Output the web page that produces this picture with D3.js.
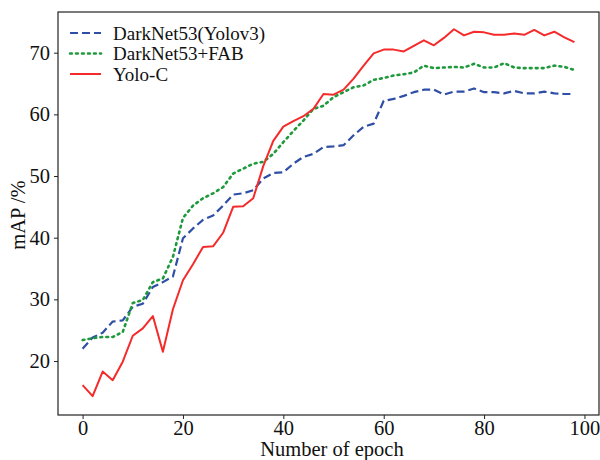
<!DOCTYPE html>
<html><head><meta charset="utf-8">
<script src="https://cdn.jsdelivr.net/npm/d3@7"></script>
<style>body{margin:0;background:#fff;} svg{display:block;}</style>
</head><body>
<svg id="c" width="600" height="460"></svg>
<script>
const epochs = d3.range(0, 100, 2);
const darknet = [22.0,23.8,24.6,26.4,26.6,28.8,29.3,32.0,32.8,33.7,39.9,41.5,42.9,43.6,45.2,47.0,47.2,47.7,49.6,50.5,50.6,52.0,53.1,53.6,54.7,54.8,55.0,56.6,58.0,58.5,62.2,62.5,63.0,63.6,64.0,64.0,63.2,63.7,63.7,64.2,63.6,63.6,63.4,63.8,63.4,63.4,63.7,63.4,63.3,63.3];
const fab = [23.4,23.7,23.9,23.9,24.7,29.4,29.9,32.8,33.4,36.9,43.2,45.2,46.4,47.2,48.2,50.4,51.2,52.0,52.3,53.6,55.5,57.3,59.0,60.9,61.4,62.8,63.6,64.4,64.7,65.6,65.9,66.3,66.5,66.8,67.9,67.5,67.6,67.7,67.6,68.2,67.6,67.6,68.3,67.6,67.5,67.5,67.5,67.9,67.7,67.2];
const yoloc = [16.1,14.3,18.3,16.9,19.9,24.1,25.3,27.3,21.5,28.4,33.1,35.7,38.5,38.6,40.8,45.0,45.1,46.4,51.6,55.7,58.0,58.9,59.7,60.9,63.3,63.2,64.0,65.8,67.9,69.9,70.5,70.5,70.2,71.1,72.0,71.2,72.4,73.8,72.8,73.4,73.3,72.9,72.9,73.1,72.9,73.7,72.8,73.4,72.5,71.7];
const seriesNames = ["DarkNet53(Yolov3)", "DarkNet53+FAB", "Yolo-C"];
const xTicks = [0,20,40,60,80,100];
const yTicks = [20,30,40,50,60,70];

const svg = d3.select("#c");
const L = 58, R = 599, T = 12, B = 415;
const x = d3.scaleLinear().domain([-4.9, 102.9]).range([L, R]);
const y = d3.scaleLinear().domain([11.25, 76.6]).range([B, T]);
const font = "Liberation Serif";

const styles = [
  {color:"#2f4fa6", dash:"8,4", width:2.2},
  {color:"#1e9a3c", dash:"1.8,4.2", width:2.6, cap:"round"},
  {color:"#f52a2a", dash:null, width:2.0}
];
const data = [darknet, fab, yoloc];

const line = d3.line().x((d,i)=>x(epochs[i])).y(d=>y(d));
data.forEach((s,k)=>{
  const st = styles[k];
  svg.append("path").attr("d", line(s)).attr("fill","none")
    .attr("stroke", st.color).attr("stroke-width", st.width)
    .attr("stroke-dasharray", st.dash).attr("stroke-linecap", st.cap||"butt")
    .attr("stroke-linejoin","round");
});

// axes
const xa = svg.append("g").attr("transform",`translate(0,${B})`)
  .call(d3.axisBottom(x).tickValues(xTicks).tickSize(4).tickPadding(1));
const ya = svg.append("g").attr("transform",`translate(${L},0)`)
  .call(d3.axisLeft(y).tickValues(yTicks).tickSize(4).tickPadding(4));
[xa, ya].forEach(g=>{
  g.select(".domain").remove();
  g.selectAll("line").attr("stroke","#222").attr("stroke-width",1);
  g.selectAll("text").attr("font-family", font).attr("font-size", 20.5).attr("fill","#111");
});
svg.append("rect").attr("x",L).attr("y",T).attr("width",R-L).attr("height",B-T)
  .attr("fill","none").attr("stroke","#222").attr("stroke-width",1.2);

svg.append("text").attr("x", 332).attr("y", 456).attr("text-anchor","middle")
  .attr("font-family",font).attr("font-size",20.5).attr("fill","#111").text("Number of epoch");
svg.append("text").attr("transform",`translate(25,215) rotate(-90)`).attr("text-anchor","middle")
  .attr("font-family",font).attr("font-size",20.5).attr("fill","#111").text("mAP /%");

// legend
const lg = svg.append("g");
seriesNames.forEach((n,k)=>{
  const yy = 33 + k*20.5;
  const st = styles[k];
  lg.append("line").attr("x1",70).attr("x2",101).attr("y1",yy).attr("y2",yy)
    .attr("stroke",st.color).attr("stroke-width",st.width)
    .attr("stroke-dasharray",st.dash).attr("stroke-linecap",st.cap||"butt");
  lg.append("text").attr("x",113).attr("y",yy+6.5).attr("font-family",font)
    .attr("font-size",19).attr("fill","#111").text(n);
});
</script>
</body></html>
